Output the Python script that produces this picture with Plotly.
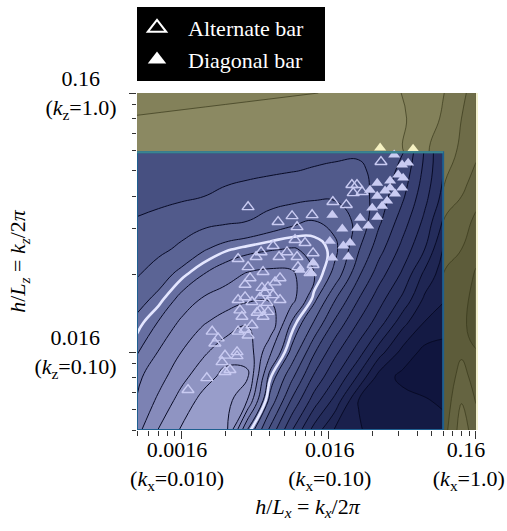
import math
import plotly.graph_objects as go

# ---------------- data ----------------
# background field inside the blue window (grid)
kx_blue = [0.005, 0.007, 0.01, 0.014, 0.02, 0.028, 0.04, 0.056, 0.08, 0.11, 0.16, 0.22, 0.32, 0.45, 0.6]
kz_blue = [0.05, 0.065, 0.08, 0.1, 0.13, 0.16, 0.2, 0.25, 0.32, 0.4, 0.5, 0.59]
z_blue = [
    [5.7, 7.05, 8.1, 8.5, 8.4, 4.0, 0.75, -1.9, -4.4, -6.07, -6.93, -7.3, -7.5, -7.6, -7.6],
    [5.05, 6.2, 7.4, 8.3, 8.45, 7.0, 2.7, -0.1, -2.5, -4.3, -7.03, -7.3, -7.6, -7.9, -8.2],
    [4.8, 5.6, 6.7, 7.6, 8.3, 8.15, 3.6, 1.25, -1.2, -2.9, -5.2, -7.4, -8.3, -8.55, -8.5],
    [3.9, 5.05, 6.0, 6.8, 7.6, 7.7, 5.2, 2.75, 0.1, -1.7, -3.5, -5.55, -7.35, -8.3, -8.4],
    [3.26, 4.05, 5.2, 5.9, 6.42, 6.9, 6.8, 3.95, 1.9, -0.17, -2.07, -3.5, -5.67, -7.05, -7.5],
    [2.6, 3.28, 4.27, 5.1, 5.55, 5.85, 5.9, 5.4, 3.25, 1.1, -1.0, -2.57, -4.25, -6.2, -6.9],
    [1.9, 2.5, 3.3, 3.97, 4.54, 5.1, 5.3, 5.2, 4.0, 2.75, 0.18, -1.54, -3.2, -5.25, -6.5],
    [1.45, 1.75, 2.19, 2.88, 3.39, 3.67, 3.9, 4.05, 3.87, 3.27, 1.1, -0.6, -2.36, -4.0, -6.05],
    [1.1, 1.3, 1.5, 1.65, 1.82, 2.0, 2.4, 2.75, 3.02, 2.66, 1.73, 0.19, -1.54, -3.25, -5.1],
    [0.55, 0.7, 0.85, 0.98, 1.2, 1.38, 1.52, 1.65, 1.78, 1.85, 1.5, 0.57, -0.85, -2.67, -4.3],
    [0.3, 0.4, 0.5, 0.6, 0.7, 0.78, 0.88, 0.97, 1.07, 1.15, 1.18, 0.73, -0.33, -2.27, -4.0],
    [0.2, 0.28, 0.36, 0.44, 0.52, 0.6, 0.66, 0.72, 0.78, 0.84, 0.88, 0.55, 0.05, -2.1, -4.0],
]
WHITE_LEVEL = 3.5

# background field of the outer (olive) region
kx_olive = [0.005, 0.02, 0.08, 0.16, 0.3, 0.45, 0.6, 0.8, 1.0]
kz_olive = [0.05, 0.08, 0.12, 0.2, 0.32, 0.45, 0.59, 0.8, 1.0]
z_olive = [
    [0.5, 0.5, 0.5, 0.5, 0.5, 0.5, -4.5, -2.5, -3.5],
    [0.5, 0.5, 0.5, 0.5, 0.5, 0.5, -5.0, -3.5, -4.5],
    [0.5, 0.5, 0.5, 0.5, 0.5, 0.5, -5.0, -4.8, -5.3],
    [0.5, 0.5, 0.5, 0.5, 0.5, 0.5, -4.0, -4.4, -5.1],
    [0.5, 0.5, 0.5, 0.5, 0.5, 0.5, -3.0, -3.55, -4.2],
    [0.5, 0.5, 0.5, 0.5, 0.5, 0.5, -1.9, -2.7, -3.4],
    [0.4, 0.55, 0.6, 0.55, 0.2, -0.85, -1.5, -2.2, -2.8],
    [0.05, 0.3, 0.45, 0.45, 0.15, -0.35, -1.15, -2.0, -2.6],
    [-0.4, -0.25, -0.03, 0.3, 0.05, -0.5, -0.95, -1.8, -2.4],
]

# observed bars
alt_kx = [0.0284, 0.0454, 0.0565, 0.0773, 0.0611, 0.0592, 0.0692, 0.0785, 0.0611, 0.0620, 0.0785, 0.0749,
          0.107, 0.132, 0.144, 0.156, 0.147, 0.169, 0.227,
          0.0420, 0.0348, 0.0522, 0.0461, 0.0243, 0.0322, 0.0284, 0.0359, 0.0293, 0.0468, 0.0433, 0.0388, 0.0353, 0.0271,
          0.0243, 0.0271, 0.0302, 0.0342, 0.0382, 0.0370, 0.0420, 0.0468,
          0.0250, 0.0258, 0.0327, 0.0342, 0.0388, 0.0359, 0.0302, 0.0271, 0.0243, 0.0284,
          0.0162, 0.0178, 0.0169, 0.0198, 0.0239, 0.0239, 0.0189, 0.0198, 0.0214, 0.0149, 0.0111]
alt_kz = [0.363, 0.318, 0.335, 0.338, 0.304, 0.271, 0.264, 0.241, 0.233, 0.213, 0.217, 0.202,
          0.380, 0.370, 0.442, 0.442, 0.411, 0.415, 0.542,
          0.257, 0.243, 0.243, 0.233, 0.229, 0.233, 0.213, 0.204, 0.193, 0.193, 0.186, 0.178, 0.177, 0.182,
          0.159, 0.163, 0.156, 0.162, 0.155, 0.169, 0.166, 0.159,
          0.145, 0.137, 0.142, 0.145, 0.143, 0.137, 0.127, 0.122, 0.120, 0.116,
          0.120, 0.113, 0.108, 0.097, 0.100, 0.0965, 0.0915, 0.0838, 0.0853, 0.0794, 0.0714]

diag_kx = [0.316, 0.347, 0.297, 0.321, 0.262, 0.214, 0.262, 0.242, 0.316, 0.283, 0.214, 0.250, 0.191, 0.198,
           0.231, 0.214, 0.164, 0.186, 0.156, 0.124, 0.106, 0.140, 0.126, 0.102, 0.106, 0.136, 0.0785, 0.0761,
           0.0640, 0.279]
diag_kz = [0.528, 0.537, 0.483, 0.470, 0.458, 0.449, 0.430, 0.419, 0.430, 0.408, 0.400, 0.383, 0.422, 0.360,
           0.366, 0.332, 0.329, 0.307, 0.301, 0.299, 0.338, 0.264, 0.257, 0.268, 0.231, 0.233, 0.221, 0.202,
           0.207, 0.577]
diag_out_kx = [0.224, 0.375]
diag_out_kz = [0.614, 0.608]

NB = "&nbsp;"
x_tickvals = [0.01, 0.1, 1.0]
x_ticktext = [NB + "0.0016<br>" + NB + "(<i>k</i><sub>x</sub>=0.010)",
              NB * 3 + "0.016<br>" + NB * 3 + "(<i>k</i><sub>x</sub>=0.10)",
              "0.16" + NB + "<br>(<i>k</i><sub>x</sub>=1.0)"]
y_tickvals = [0.1, 1.0]
y_ticktext = ["0.016" + NB * 3 + "<br>(<i>k</i><sub>z</sub>=0.10)",
              "0.16" + NB * 3 + "<br>(<i>k</i><sub>z</sub>=1.0)"]
x_minor = [0.005, 0.006, 0.007, 0.008, 0.009, 0.02, 0.03, 0.04, 0.05, 0.06, 0.07, 0.08, 0.09,
           0.2, 0.3, 0.4, 0.5, 0.6, 0.7, 0.8, 0.9]
y_minor = [0.05, 0.06, 0.07, 0.08, 0.09, 0.2, 0.3, 0.4, 0.5, 0.6, 0.7, 0.8, 0.9]

BLUE_KX_MAX = 0.6
BLUE_KZ_MAX = 0.59

# ---------------- styles ----------------
FONT = "Liberation Serif"
MARK = "#c9cbf2"
blue_cs = [[0.0, "rgb(16,21,62)"], [0.056, "rgb(20,26,68)"], [0.167, "rgb(30,37,82)"],
           [0.278, "rgb(40,48,96)"], [0.389, "rgb(52,60,110)"], [0.5, "rgb(66,75,124)"],
           [0.556, "rgb(75,85,133)"], [0.694, "rgb(100,108,158)"], [0.833, "rgb(126,132,180)"],
           [1.0, "rgb(152,157,202)"]]
olive_cs = [[0.0, "rgb(80,80,48)"], [0.5, "rgb(110,108,72)"], [0.857, "rgb(136,134,95)"],
            [1.0, "rgb(142,140,100)"]]

fig = go.Figure()

fig.add_trace(go.Contour(
    x=kx_olive, y=kz_olive, z=z_olive, colorscale=olive_cs, zmin=-6, zmax=1,
    contours=dict(start=-6, end=1, size=1, coloring="fill"),
    line=dict(color="rgba(55,55,25,0.85)", width=0.8, smoothing=1.3),
    showscale=False, hoverinfo="skip", showlegend=False))

fig.add_trace(go.Contour(
    x=kx_blue, y=kz_blue, z=z_blue, colorscale=blue_cs, zmin=-9, zmax=9,
    contours=dict(start=-8, end=8, size=1, coloring="fill"),
    line=dict(color="rgb(8,11,38)", width=1, smoothing=1.3),
    showscale=False, hoverinfo="skip", showlegend=False))

fig.add_trace(go.Contour(
    x=kx_blue, y=kz_blue, z=z_blue,
    contours=dict(start=WHITE_LEVEL, end=WHITE_LEVEL, size=1, coloring="none"),
    line=dict(color="#e4e6ff", width=2.6, smoothing=1.3),
    showscale=False, hoverinfo="skip", showlegend=False))

fig.add_trace(go.Scatter(
    x=alt_kx, y=alt_kz, mode="markers", showlegend=False,
    marker=dict(symbol="triangle-up-open", size=10.5, color=MARK, line=dict(width=1.4, color=MARK))))
fig.add_trace(go.Scatter(
    x=diag_kx, y=diag_kz, mode="markers", showlegend=False,
    marker=dict(symbol="triangle-up", size=10.5, color=MARK, line=dict(width=0))))
fig.add_trace(go.Scatter(
    x=diag_out_kx, y=diag_out_kz, mode="markers", showlegend=False,
    marker=dict(symbol="triangle-up", size=10.5, color="#f6f2c2", line=dict(width=0))))

# legend entries
fig.add_trace(go.Scatter(
    x=[None], y=[None], mode="markers", name=NB * 2 + "Alternate bar" + NB * 3,
    marker=dict(symbol="triangle-up-open", size=22, color="white", line=dict(width=2, color="white"))))
fig.add_trace(go.Scatter(
    x=[None], y=[None], mode="markers", name=NB * 2 + "Diagonal bar" + NB * 3,
    marker=dict(symbol="triangle-up", size=22, color="white")))

fig.add_shape(type="rect", xref="x", yref="y",
              x0=kx_blue[0], x1=BLUE_KX_MAX, y0=kz_blue[0], y1=BLUE_KZ_MAX,
              line=dict(color="#1f5f90", width=2), layer="above")
fig.add_shape(type="line", xref="x", yref="y",
              x0=kx_blue[0], x1=BLUE_KX_MAX, y0=BLUE_KZ_MAX, y1=BLUE_KZ_MAX,
              line=dict(color="#3a8590", width=2), layer="above")

fig.update_layout(
    width=507, height=531,
    margin=dict(l=137, r=29, t=93, b=101, autoexpand=False),
    paper_bgcolor="white", plot_bgcolor="#f3f1cf",
    font=dict(family=FONT, size=22, color="black"),
    legend=dict(x=0, y=1.255, xanchor="left", yanchor="top", bgcolor="black",
                font=dict(family=FONT, size=22, color="white"), itemsizing="trace",
                borderwidth=0),
    xaxis=dict(type="log", range=[math.log10(0.005), math.log10(1.035)],
               tickmode="array", tickvals=x_tickvals, ticktext=x_ticktext,
               ticks="outside", ticklen=8, tickcolor="#333", tickwidth=1,
               showgrid=False, zeroline=False, showline=False,
               ticklabeloverflow="allow", ticklabelstandoff=-8, ticklabelshift=-7,
               minor=dict(tickmode="array", tickvals=x_minor, ticks="outside", ticklen=5,
                          tickcolor="#333", showgrid=False),
               tickfont=dict(family=FONT, size=22, color="black"),
               title=dict(text="<i>h</i>/<i>L<sub>x</sub></i> = <i>k<sub>x</sub></i>/2<i>π</i>",
                          font=dict(family=FONT, size=22), standoff=0)),
    yaxis=dict(type="log", range=[math.log10(0.05), math.log10(1.0)],
               tickmode="array", tickvals=y_tickvals, ticktext=y_ticktext,
               ticks="outside", ticklen=7, tickcolor="#333", tickwidth=1,
               showgrid=False, zeroline=False, showline=False,
               ticklabeloverflow="allow",
               minor=dict(tickmode="array", tickvals=y_minor, ticks="outside", ticklen=4,
                          tickcolor="#333", showgrid=False),
               tickfont=dict(family=FONT, size=22, color="black"),
               ticklabelstandoff=8,
               title=dict(text="<i>h</i>/<i>L<sub>z</sub></i> = <i>k<sub>z</sub></i>/2<i>π</i>",
                          font=dict(family=FONT, size=22), standoff=2)),
)

fig.write_html("out.html")
